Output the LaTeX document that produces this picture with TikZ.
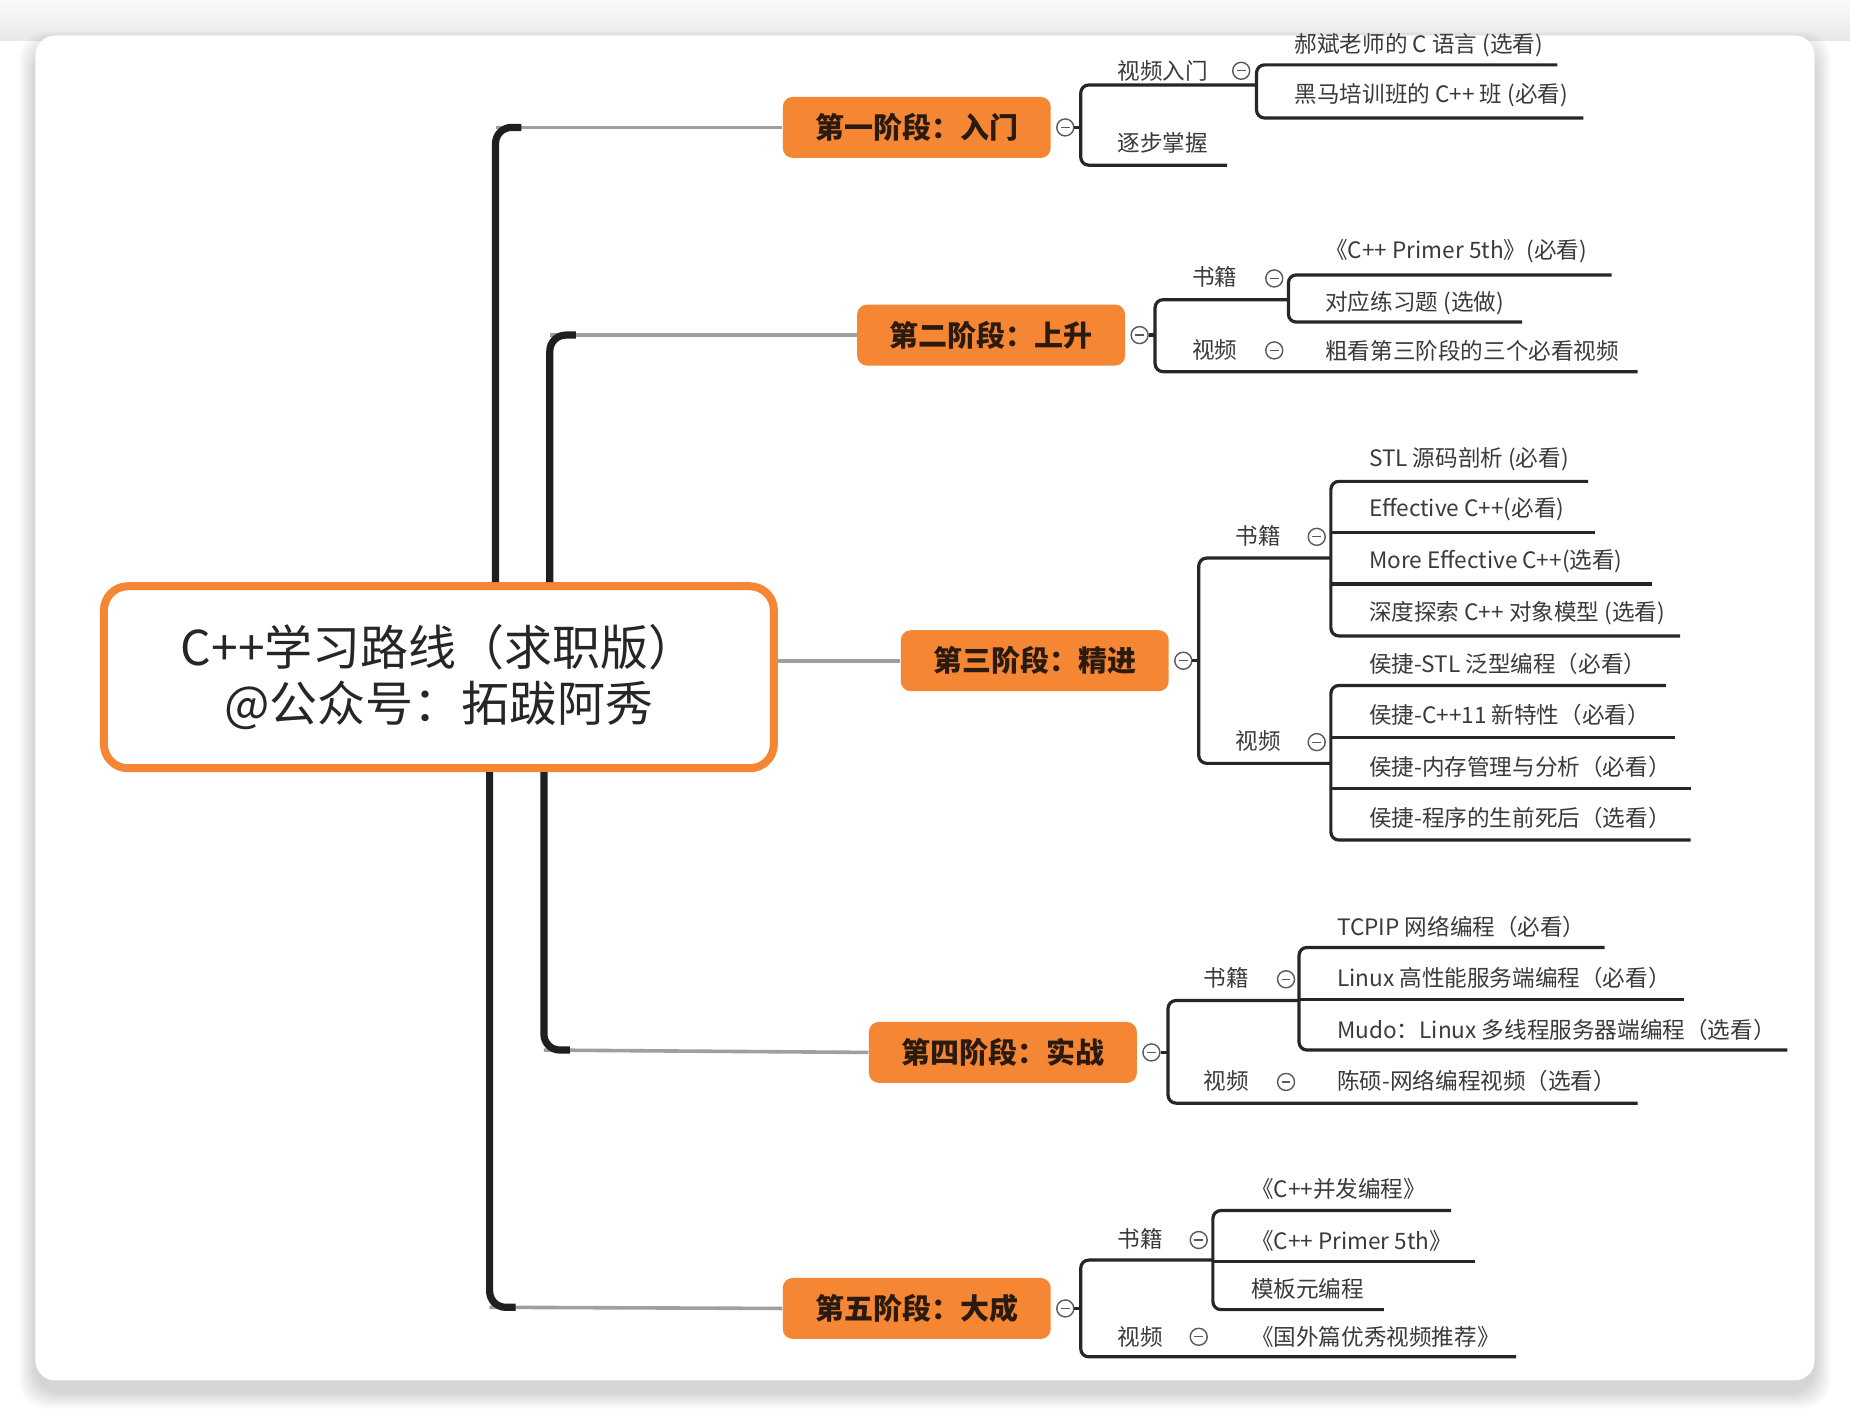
\documentclass[tikz,border=0pt]{standalone}
\usepackage{fontspec}
\setmainfont{Noto Sans CJK SC}
\usetikzlibrary{calc}
\definecolor{org}{HTML}{F58634}
\definecolor{txt}{HTML}{3A3A3A}
\definecolor{stxt}{HTML}{2B1A0E}
\begin{document}
\begin{tikzpicture}[x=0.59pt,y=-0.59pt,
 stagebox/.style={fill=org, rounded corners=5pt, minimum width=134pt, minimum height=30.5pt, text=stxt, font=\fontsize{14.5}{16}\selectfont\bfseries, inner sep=0pt},
 leaf/.style={anchor=west, inner sep=0pt, text=txt, font=\fontsize{11.3}{13}\selectfont},
 lbl/.style={anchor=west, inner sep=0pt, text=txt, font=\fontsize{11.3}{13}\selectfont},
 br/.style={line width=1.6pt, draw=black!85, rounded corners=4pt},
 trunk/.style={line width=3.6pt, draw=black!88, rounded corners=8pt},
 twig/.style={line width=1.8pt, draw=gray!75},
 tog/.style={circle, draw=gray!70!black, line width=0.7pt, minimum size=8.5pt, inner sep=0pt, fill=white,
   path picture={\draw[line width=0.6pt, gray!70!black] ($(path picture bounding box.center)+(-2.2pt,0)$)--($(path picture bounding box.center)+(2.2pt,0)$);}},
]
\useasboundingbox (0,0) rectangle (1568,1200);
% background, shadow and card
\fill[white] (0,0) rectangle (1568,1200);
\shade[top color=gray!4, bottom color=gray!18] (0,0) rectangle (1568,34);
\foreach \d in {1,...,14}
  \fill[black,opacity=0.012,rounded corners=14pt] (30-\d,30-\d+10) rectangle (1538+\d,1170+\d+10);
\fill[white,rounded corners=10pt] (30,30) rectangle (1538,1170);

% root
\node[draw=org, line width=4pt, rounded corners=12pt, minimum width=335pt, minimum height=91pt, fill=white,
      align=center, font=\fontsize{24}{28}\selectfont, text=black!85] (root) at (372,574)
      {C++学习路线（求职版）\\@公众号：拓跋阿秀};

% stages
\node[stagebox] (s1) at (777,108) {第一阶段：入门};
\node[stagebox] (s2) at (840,284) {第二阶段：上升};
\node[stagebox] (s3) at (877,560) {第三阶段：精进};
\node[stagebox] (s4) at (850,892) {第四阶段：实战};
\node[stagebox] (s5) at (777,1109) {第五阶段：大成};

% trunks
\coordinate (t1) at (420,108);
\coordinate (t2) at (466,284);
\coordinate (t4) at (461,890);
\coordinate (t5) at (415,1108);
\draw[twig] (t1) -- (s1.west);
\draw[twig] (t2) -- (s2.west);
\draw[twig] (t4) -- (s4.west);
\draw[twig] (t5) -- (s5.west);
\draw[twig] (s3.west -| root.east) -- (s3.west);
\draw[trunk] (root.north -| t1) -- (t1) -- ++(22,0);
\draw[trunk] (root.north -| t2) -- (t2) -- ++(22,0);
\draw[trunk] (root.south -| t4) -- (t4) -- ++(22,0);
\draw[trunk] (root.south -| t5) -- (t5) -- ++(22,0);

% stage toggles
\node[tog] (g1) at ($(s1.east)+(12,0)$) {};
\node[tog] (g2) at ($(s2.east)+(12,0)$) {};
\node[tog] (g3) at ($(s3.east)+(12,0)$) {};
\node[tog] (g4) at ($(s4.east)+(12,0)$) {};
\node[tog] (g5) at ($(s5.east)+(12,0)$) {};

% ---------- stage 1
\draw[br] (g1.east) -- (916,108);
\draw[br] (1065,72) -- (916,72) -- (916,140) -- (1040,140);
\node[lbl] (a1) at (947,60) {视频入门};
\node[tog] (a1g) at (1052,60) {};
\node[lbl] (a2) at (947,121) {逐步掌握};
\draw[br] (1320,55) -- (1065,55) -- (1065,100) -- (1342,100);
\node[leaf] (a11) at (1097,38) {郝斌老师的 C 语言 (选看)};
\node[leaf] (a12) at (1097,81) {黑马培训班的 C++ 班 (必看)};

% ---------- stage 2
\draw[br] (g2.east) -- (979,284);
\draw[br] (1092,254) -- (979,254) -- (979,315) -- (1388,315);
\node[lbl] (b1) at (1010,235) {书籍};
\node[tog] (b1g) at (1080,236) {};
\node[lbl] (b2) at (1010,297) {视频};
\node[tog] (b2g) at (1080,297) {};
\draw[br] (1366,233) -- (1092,233) -- (1092,273) -- (1290,273);
\node[leaf] (b11) at (1123,213) {《C++ Primer 5th》(必看)};
\node[leaf] (b12) at (1123,257) {对应练习题 (选做)};
\node[leaf] (b21) at (1123,297) {粗看第三阶段的三个必看视频};

% ---------- stage 3
\draw[br] (g3.east) -- (1016,560);
\draw[br] (1128,473) -- (1016,473) -- (1016,647) -- (1128,647);
\node[lbl] (c1) at (1047,454) {书籍};
\node[tog] (c1g) at (1116,455) {};
\node[lbl] (c2) at (1047,628) {视频};
\node[tog] (c2g) at (1116,629) {};
\draw[br] (1346,408) -- (1128,408) -- (1128,539) -- (1424,539);
\draw[br] (1128,451) -- (1352,451);
\draw[br] (1128,495) -- (1400,495);
\node[leaf] (c11) at (1160,389) {STL 源码剖析 (必看)};
\node[leaf] (c12) at (1160,432) {Effective C++(必看)};
\node[leaf] (c13) at (1160,476) {More Effective C++(选看)};
\node[leaf] (c14) at (1160,520) {深度探索 C++ 对象模型 (选看)};
\draw[br] (1412,581) -- (1128,581) -- (1128,712) -- (1433,712);
\draw[br] (1128,625) -- (1420,625);
\draw[br] (1128,668) -- (1433,668);
\node[leaf] (c21) at (1160,563) {侯捷-STL 泛型编程（必看）};
\node[leaf] (c22) at (1160,606) {侯捷-C++11 新特性（必看）};
\node[leaf] (c23) at (1160,650) {侯捷-内存管理与分析（必看）};
\node[leaf] (c24) at (1160,693) {侯捷-程序的生前死后（选看）};

% ---------- stage 4
\draw[br] (g4.east) -- (990,892);
\draw[br] (1101,848) -- (990,848) -- (990,935) -- (1388,935);
\node[lbl] (d1) at (1020,829) {书籍};
\node[tog] (d1g) at (1090,830) {};
\node[lbl] (d2) at (1020,916) {视频};
\node[tog] (d2g) at (1090,917) {};
\draw[br] (1360,803) -- (1101,803) -- (1101,890) -- (1515,890);
\draw[br] (1101,847) -- (1427,847);
\node[leaf] (d11) at (1133,786) {TCPIP 网络编程（必看）};
\node[leaf] (d12) at (1133,829) {Linux 高性能服务端编程（必看）};
\node[leaf] (d13) at (1133,873) {Mudo：Linux 多线程服务器端编程（选看）};
\node[leaf] (d21) at (1133,916) {陈硕-网络编程视频（选看）};

% ---------- stage 5
\draw[br] (g5.east) -- (916,1109);
\draw[br] (1028,1068) -- (916,1068) -- (916,1150) -- (1285,1150);
\node[lbl] (e1) at (947,1050) {书籍};
\node[tog] (e1g) at (1016,1051) {};
\node[lbl] (e2) at (947,1133) {视频};
\node[tog] (e2g) at (1016,1133) {};
\draw[br] (1230,1026) -- (1028,1026) -- (1028,1110) -- (1173,1110);
\draw[br] (1028,1069) -- (1250,1069);
\node[leaf] (e11) at (1060,1008) {《C++并发编程》};
\node[leaf] (e12) at (1060,1052) {《C++ Primer 5th》};
\node[leaf] (e13) at (1060,1092) {模板元编程};
\node[leaf] (e21) at (1060,1133) {《国外篇优秀视频推荐》};
\end{tikzpicture}
\end{document}
